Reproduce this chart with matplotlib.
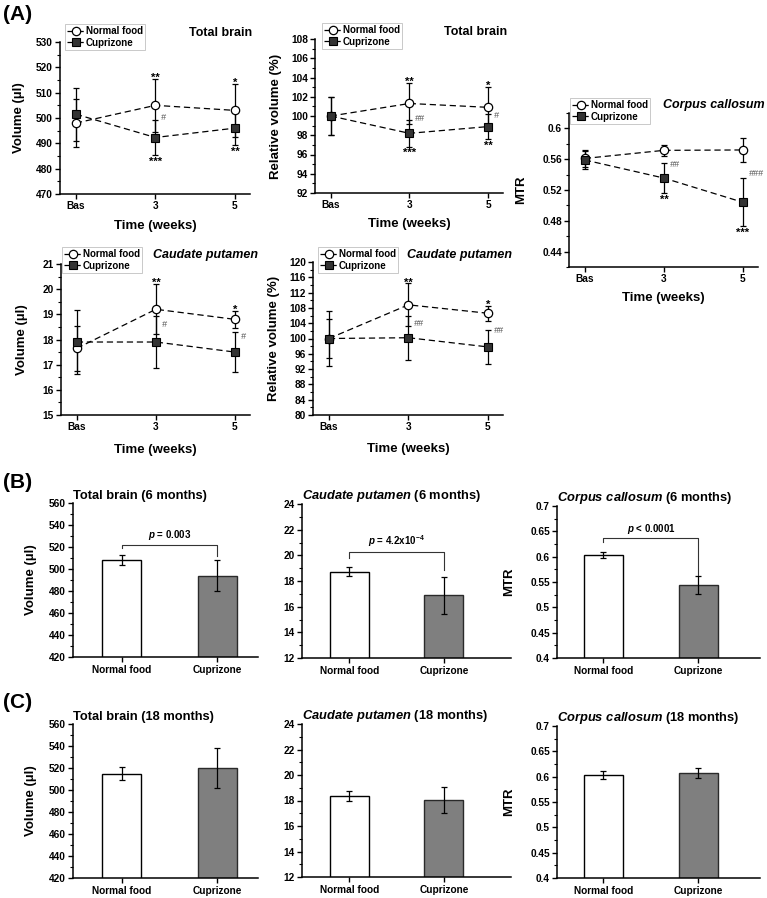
import matplotlib
matplotlib.use('Agg')
import matplotlib.pyplot as plt
from matplotlib.ticker import MultipleLocator, FuncFormatter
import numpy as np

plt.rcParams['font.family'] = ['Liberation Sans', 'DejaVu Sans']
plt.rcParams['font.weight'] = 'bold'
plt.rcParams['mathtext.fontset'] = 'custom'
plt.rcParams['mathtext.rm'] = 'Liberation Sans:bold'
plt.rcParams['mathtext.it'] = 'Liberation Sans:italic:bold'
plt.rcParams['mathtext.bf'] = 'Liberation Sans:bold'
plt.rcParams['axes.linewidth'] = 1.1

# ---------------- data ----------------
weeks = ['Bas', '3', '5']
groups = ['Normal food', 'Cuprizone']

# (A) time course
tb_vol_nf = [498.0, 505.0, 503.0]
tb_vol_nf_err = [9.5, 10.5, 10.5]
tb_vol_cpz = [501.5, 492.3, 496.0]
tb_vol_cpz_err = [10.5, 7.0, 6.7]

tb_rel_nf = [100.0, 101.3, 100.9]
tb_rel_nf_err = [2.0, 2.15, 2.1]
tb_rel_cpz = [100.0, 98.2, 98.9]
tb_rel_cpz_err = [2.0, 1.4, 1.3]

cc_mtr_nf = [0.561, 0.5715, 0.572]
cc_mtr_nf_err = [0.011, 0.007, 0.016]
cc_mtr_cpz = [0.559, 0.5355, 0.504]
cc_mtr_cpz_err = [0.012, 0.0195, 0.031]

cp_vol_nf = [17.65, 19.2, 18.8]
cp_vol_nf_err = [0.9, 1.0, 0.35]
cp_vol_cpz = [17.9, 17.9, 17.5]
cp_vol_cpz_err = [1.28, 1.05, 0.78]

cp_rel_nf = [100.0, 108.8, 106.6]
cp_rel_nf_err = [5.0, 5.6, 2.0]
cp_rel_cpz = [100.0, 100.2, 97.8]
cp_rel_cpz_err = [7.2, 5.8, 4.4]

# significance marks: (week index, text)
tb_vol_up = [(1, '**'), (2, '*')]
tb_vol_down = [(1, '***'), (2, '**')]
tb_vol_hash = [(1, 500.0, '#')]
tb_rel_up = [(1, '**'), (2, '*')]
tb_rel_down = [(1, '***'), (2, '**')]
tb_rel_hash = [(1, 99.7, '##'), (2, 100.1, '#')]
cc_mtr_up = []
cc_mtr_down = [(1, '**'), (2, '***')]
cc_mtr_hash = [(1, 0.553, '##'), (2, 0.542, '###')]
cp_vol_up = [(1, '**'), (2, '*')]
cp_vol_down = []
cp_vol_hash = [(1, 18.6, '#'), (2, 18.1, '#')]
cp_rel_up = [(1, '**'), (2, '*')]
cp_rel_down = []
cp_rel_hash = [(1, 104.0, '##'), (2, 102.0, '##')]

# (B) 6 months
tb6 = [507.8, 494.0]
tb6_err = [4.6, 14.0]
cp6 = [18.72, 16.9]
cp6_err = [0.36, 1.45]
cc6 = [0.603, 0.5435]
cc6_err = [0.006, 0.018]
tb6_p = r'$p$ = 0.003'
cp6_p = r'$p$ = 4.2x10$^{-4}$'
cc6_p = r'$p$ < 0.0001'
tb6_bracket = [522.0, 519.0, 512.0]
cp6_bracket = [20.27, 19.8, 18.88]
cc6_bracket = [0.636, 0.628, 0.563]

# (C) 18 months
tb18 = [515.0, 520.0]
tb18_err = [6.0, 18.5]
cp18 = [18.33, 18.03]
cp18_err = [0.4, 1.0]
cc18 = [0.603, 0.607]
cc18_err = [0.008, 0.010]

# ---------------- layout helpers ----------------
W, H = 767, 898
fig = plt.figure(figsize=(W / 100, H / 100), dpi=100)


def px(l, t, r, b):
    return [l / W, 1 - b / H, (r - l) / W, (b - t) / H]


fmt = FuncFormatter(lambda v, p: '%g' % round(v, 4))


def style_axes(ax, major, minor, ylim):
    ax.spines['top'].set_visible(False)
    ax.spines['right'].set_visible(False)
    ax.set_ylim(*ylim)
    ax.yaxis.set_major_locator(MultipleLocator(major))
    ax.yaxis.set_minor_locator(MultipleLocator(minor))
    ax.yaxis.set_major_formatter(fmt)
    ax.tick_params(axis='both', which='major', direction='out', length=3.5, width=1.0,
                   labelsize=7.3, pad=1.5)
    ax.tick_params(axis='y', which='minor', direction='out', length=2, width=0.8)
    for lab in ax.get_xticklabels() + ax.get_yticklabels():
        lab.set_fontweight('bold')


def time_panel(rect, nf, nf_err, cpz, cpz_err, ylim, major, minor, ylabel, ylab_x,
               title, title_xy, leg_xy, xlab_y, up, down, hashes, yticks=None):
    ax = fig.add_axes(rect)
    x = np.arange(len(weeks))
    ax.errorbar(x, nf, yerr=nf_err, fmt='none', ecolor='k', elinewidth=0.9,
                capsize=2, capthick=0.9, zorder=2)
    ax.errorbar(x, cpz, yerr=cpz_err, fmt='none', ecolor='k', elinewidth=0.9,
                capsize=2, capthick=0.9, zorder=2)
    ax.plot(x, nf, ls=(0, (5, 3)), lw=0.9, color='k', marker='o', mfc='white',
            mec='k', mew=0.9, ms=6, label=groups[0], zorder=3)
    ax.plot(x, cpz, ls=(0, (5, 3)), lw=0.9, color='k', marker='s', mfc='#333333',
            mec='k', mew=0.8, ms=5.5, label=groups[1], zorder=4)
    ax.set_xlim(-0.2, 2.19)
    ax.set_xticks(x)
    ax.set_xticklabels(weeks)
    style_axes(ax, major, minor, ylim)
    if yticks is not None:
        ax.set_yticks(yticks)
    ax.set_ylabel(ylabel, fontsize=9.5, fontweight='bold')
    ax.yaxis.set_label_coords(ylab_x, 0.5)
    ax.set_xlabel('Time (weeks)', fontsize=9.5, fontweight='bold')
    ax.xaxis.set_label_coords(0.5, xlab_y)
    for i, t in up:
        ax.annotate(t, (x[i], nf[i] + nf_err[i]), xytext=(0, -3), textcoords='offset points',
                    ha='center', va='bottom', fontsize=8, fontweight='bold')
    for i, t in down:
        ax.annotate(t, (x[i], cpz[i] - cpz_err[i]), xytext=(0, -1), textcoords='offset points',
                    ha='center', va='top', fontsize=8, fontweight='bold')
    for i, yv, t in hashes:
        ax.annotate(t, (x[i], yv), xytext=(4, 0), textcoords='offset points',
                    ha='left', va='center', fontsize=6.5, color='#555555',
                    fontstyle='italic', fontweight='normal')
    fig.text(title_xy[0] / W, 1 - title_xy[1] / H, title, ha='right', va='center',
             fontsize=9, fontweight='bold',
             fontstyle='italic' if title != 'Total brain' else 'normal')
    leg = ax.legend(loc='upper left', bbox_to_anchor=(leg_xy[0] / W, 1 - leg_xy[1] / H),
                    bbox_transform=fig.transFigure, frameon=True, fancybox=False,
                    edgecolor='#b0b0b0', prop={'size': 7, 'weight': 'bold'},
                    handlelength=1.7, handletextpad=0.2, labelspacing=0.15,
                    borderpad=0.25, borderaxespad=0)
    leg.get_frame().set_linewidth(0.6)
    return ax


def bar_panel(rect, vals, errs, ylim, major, minor, title, xlim, ylabel=None, ylab_x=None,
              ptext=None, bracket=None):
    ax = fig.add_axes(rect)
    x = np.arange(len(groups))
    ax.bar(x, vals, width=0.41, color=['white', '#7f7f7f'], edgecolor=['k', '#2a2a2a'],
           linewidth=1.0, zorder=2)
    ax.errorbar(x, vals, yerr=errs, fmt='none', ecolor='k', elinewidth=0.9,
                capsize=2, capthick=0.9, zorder=3)
    ax.set_xlim(*xlim)
    ax.set_xticks(x)
    ax.set_xticklabels(groups)
    style_axes(ax, major, minor, ylim)
    ax.tick_params(axis='x', labelsize=7.3, pad=2)
    ax.set_title(title, loc='left', fontsize=9.3, fontweight='bold', pad=3)
    if ylabel:
        ax.set_ylabel(ylabel, fontsize=9.5, fontweight='bold')
        ax.yaxis.set_label_coords(ylab_x, 0.5)
    if bracket is not None:
        yb, yl, yr = bracket
        ax.plot([x[0], x[0], x[1], x[1]], [yl, yb, yb, yr], color='#333333', lw=0.8, zorder=3)
        ax.annotate(ptext, ((x[0] + x[1]) / 2, yb), xytext=(0, 2), textcoords='offset points',
                    ha='center', va='bottom', fontsize=7, fontweight='bold')
    return ax


# ---------------- (A) ----------------
time_panel(px(60, 42, 250, 194), tb_vol_nf, tb_vol_nf_err, tb_vol_cpz, tb_vol_cpz_err,
           (470, 530), 10, 5, 'Volume (\u00b5l)', -0.184, 'Total brain', (252, 33),
           (65, 24), -0.17, tb_vol_up, tb_vol_down, tb_vol_hash)
time_panel(px(315, 39, 503, 193), tb_rel_nf, tb_rel_nf_err, tb_rel_cpz, tb_rel_cpz_err,
           (92, 108), 2, 1, 'Relative volume (%)', -0.176, 'Total brain', (507, 32),
           (322, 23), -0.165, tb_rel_up, tb_rel_down, tb_rel_hash)
time_panel(px(569, 113, 758, 267), cc_mtr_nf, cc_mtr_nf_err, cc_mtr_cpz, cc_mtr_cpz_err,
           (0.42, 0.62), 0.04, 0.02, 'MTR', -0.222, 'Corpus callosum', (765, 105),
           (570, 98), -0.16, cc_mtr_up, cc_mtr_down, cc_mtr_hash,
           yticks=[0.44, 0.48, 0.52, 0.56, 0.6])
time_panel(px(61, 264, 250, 415), cp_vol_nf, cp_vol_nf_err, cp_vol_cpz, cp_vol_cpz_err,
           (15, 21), 1, 0.5, 'Volume (\u00b5l)', -0.175, 'Caudate putamen', (258, 255),
           (62, 247), -0.195, cp_vol_up, cp_vol_down, cp_vol_hash)
time_panel(px(313, 262, 503, 415), cp_rel_nf, cp_rel_nf_err, cp_rel_cpz, cp_rel_cpz_err,
           (80, 120), 4, 2, 'Relative volume (%)', -0.174, 'Caudate putamen', (512, 255),
           (318, 247), -0.185, cp_rel_up, cp_rel_down, cp_rel_hash)

# ---------------- (B) ----------------
bar_panel(px(73, 503, 258, 657), tb6, tb6_err, (420, 560), 20, 10,
          'Total brain (6 months)', (-0.515, 1.43), 'Volume (\u00b5l)', -0.196, tb6_p, tb6_bracket)
bar_panel(px(302, 504, 511, 658), cp6, cp6_err, (12, 24), 2, 1,
          r'$Caudate\ putamen$ (6 months)', (-0.50, 1.71), ptext=cp6_p, bracket=cp6_bracket)
bar_panel(px(557, 506, 760, 658), cc6, cc6_err, (0.4, 0.7), 0.05, 0.025,
          r'$Corpus\ callosum$ (6 months)', (-0.49, 1.65), 'MTR', -0.207, cc6_p, cc6_bracket)

# ---------------- (C) ----------------
bar_panel(px(73, 724, 258, 878), tb18, tb18_err, (420, 560), 20, 10,
          'Total brain (18 months)', (-0.515, 1.43), 'Volume (\u00b5l)', -0.196)
bar_panel(px(302, 724, 511, 877), cp18, cp18_err, (12, 24), 2, 1,
          r'$Caudate\ putamen$ (18 months)', (-0.50, 1.71))
bar_panel(px(557, 726, 760, 878), cc18, cc18_err, (0.4, 0.7), 0.05, 0.025,
          r'$Corpus\ callosum$ (18 months)', (-0.49, 1.65), 'MTR', -0.207)

for lab, yy in [('(A)', 15), ('(B)', 483), ('(C)', 702)]:
    fig.text(3 / W, 1 - yy / H, lab, ha='left', va='center', fontsize=15, fontweight='bold')

fig.savefig('out.png', dpi=100)
